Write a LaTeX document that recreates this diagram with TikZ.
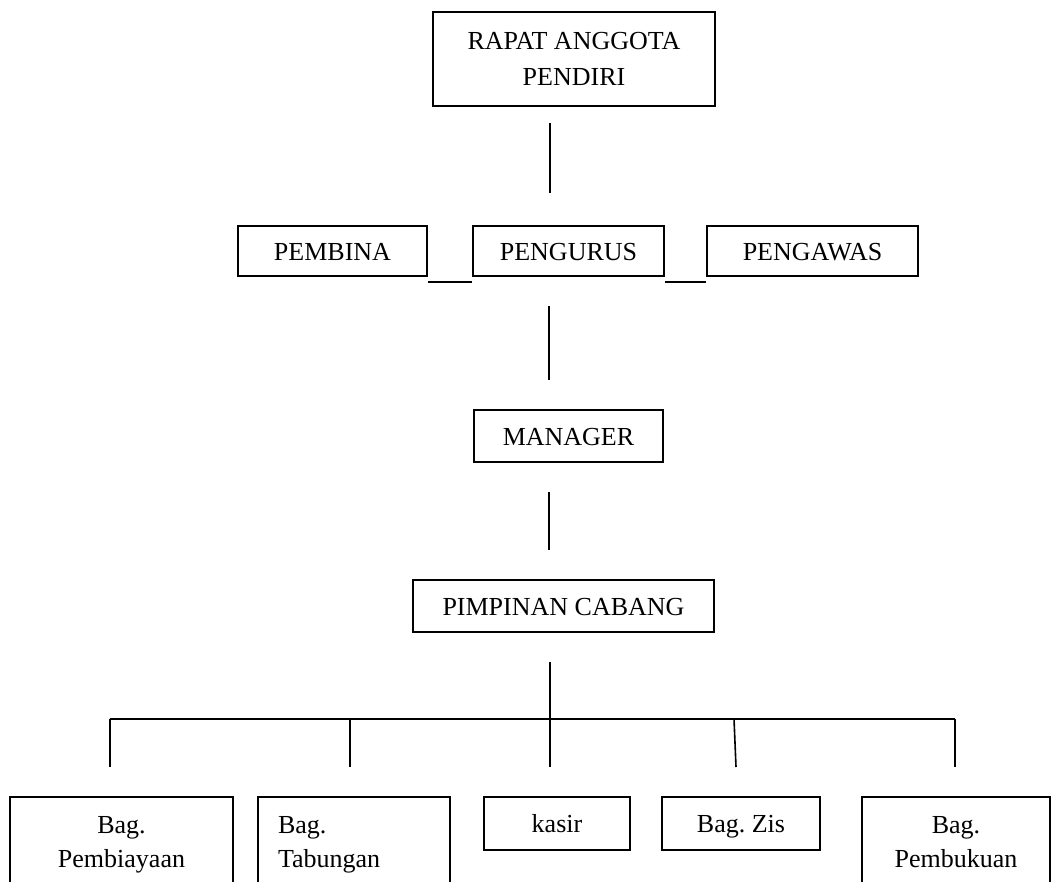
\documentclass[tikz,border=0pt]{standalone}
\usepackage{fontspec}
\setmainfont{Liberation Serif}
\frenchspacing
\begin{document}
\begin{tikzpicture}[x=1pt,y=-1pt,
  box/.style={draw, line width=1.6pt, inner sep=0pt, align=center, font=\fontsize{26}{35}\selectfont},
  one/.style={text height=18pt, text depth=0pt},
  conn/.style={line width=1.6pt}]
\useasboundingbox (0,0) rectangle (1056,881);
\clip (0,0) rectangle (1056,881);
% boxes
\node[box, minimum width=282, minimum height=94, font=\fontsize{26}{36}\selectfont] (rapat) at (574,59) {RAPAT ANGGOTA\\PENDIRI};
\node[box, one, minimum width=189, minimum height=50] (pembina) at (332.5,251) {PEMBINA};
\node[box, one, minimum width=191, minimum height=50] (pengurus) at (568.5,251) {PENGURUS};
\node[box, one, minimum width=211, minimum height=50] (pengawas) at (812.5,251) {PENGAWAS};
\node[box, one, minimum width=189, minimum height=52] (manager) at (568.5,436) {MANAGER};
\node[box, one, minimum width=301, minimum height=52] (pimpinan) at (563.5,606) {PIMPINAN CABANG};
\node[box, anchor=north, minimum width=223, minimum height=96, font=\fontsize{26}{34}\selectfont] (pembiayaan) at (121.5,796) {Bag.\\Pembiayaan};
\node[box, anchor=north, text width=152, inner xsep=20, align=left, minimum height=96, font=\fontsize{26}{34}\selectfont] (tabungan) at (354,796) {Bag.\\Tabungan};
\node[box, one, anchor=north, minimum width=146, minimum height=53] (kasir) at (557,796) {kasir};
\node[box, one, anchor=north, minimum width=158, minimum height=53] (zis) at (741,796) {Bag. Zis};
\node[box, anchor=north, minimum width=188, minimum height=96, font=\fontsize{26}{34}\selectfont] (pembukuan) at (956,796) {Bag.\\Pembukuan\vphantom{y}};
% connector end points
\coordinate (l1a) at (550,123); \coordinate (l1b) at (550,193);
\coordinate (l2a) at (549,306); \coordinate (l2b) at (549,380);
\coordinate (l3a) at (549,492); \coordinate (l3b) at (549,550);
\coordinate (l4a) at (550,662); \coordinate (hub) at (550,719);
\coordinate (hl) at (110,719); \coordinate (hr) at (955,719);
\coordinate (d2t) at (350,719); \coordinate (d4t) at (734,719);
\coordinate (d1) at (110,767); \coordinate (d2) at (350,767);
\coordinate (d3) at (550,767); \coordinate (d4) at (736,767);
\coordinate (d5) at (955,767);
% connectors
\draw[conn] (l1a) -- (l1b);
\draw[conn] ([yshift=-5pt]pembina.south east) -- ([yshift=-5pt]pengurus.south west);
\draw[conn] ([yshift=-5pt]pengurus.south east) -- ([yshift=-5pt]pengawas.south west);
\draw[conn] (l2a) -- (l2b);
\draw[conn] (l3a) -- (l3b);
\draw[conn] (l4a) -- (hub);
\draw[conn] (hl) -- (hr);
\draw[conn] (hl) -- (d1);
\draw[conn] (d2t) -- (d2);
\draw[conn] (hub) -- (d3);
\draw[conn] (d4t) -- (d4);
\draw[conn] (hr) -- (d5);
\end{tikzpicture}
\end{document}
